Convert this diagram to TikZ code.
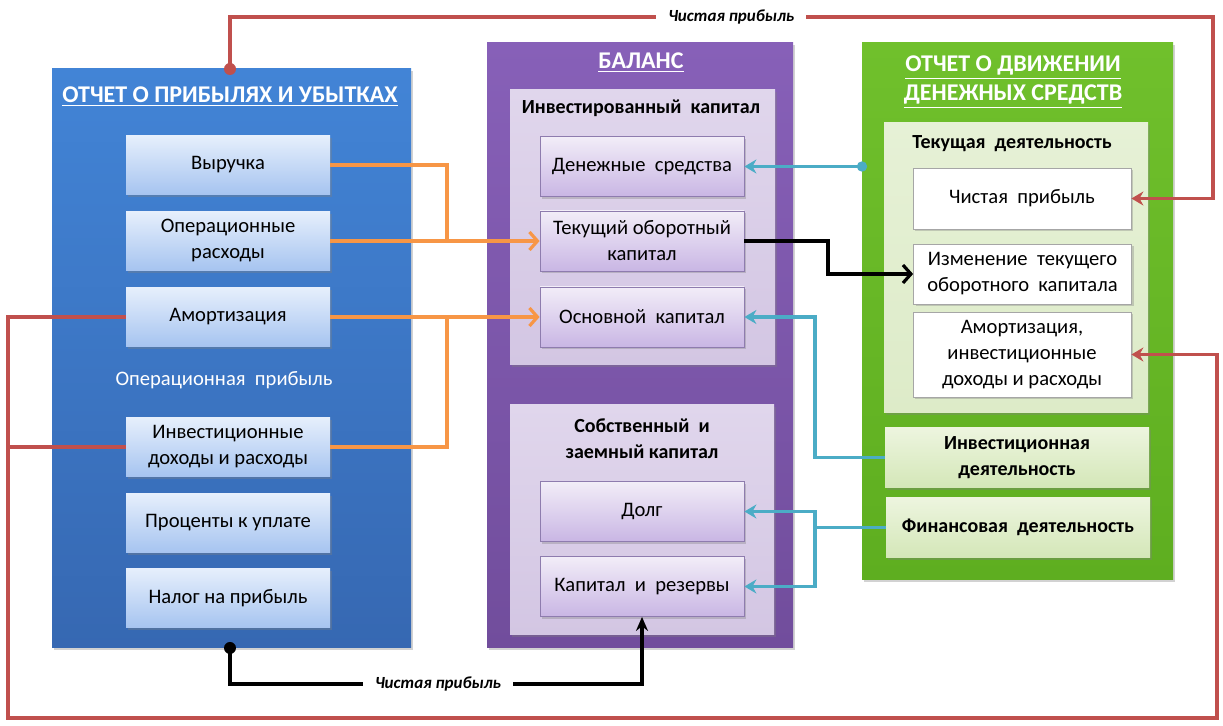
\documentclass[tikz,border=0pt]{standalone}
\usepackage{fontspec}
\setmainfont{Carlito}
\usetikzlibrary{arrows.meta,shadows}
\definecolor{bluT}{HTML}{4284D6}
\definecolor{bluB}{HTML}{3668B2}
\definecolor{purT}{HTML}{8760B8}
\definecolor{purB}{HTML}{714D9C}
\definecolor{grnT}{HTML}{70C02C}
\definecolor{grnB}{HTML}{5EAE20}
\definecolor{lavT}{HTML}{E0D6EC}
\definecolor{lavB}{HTML}{D3C6E3}
\definecolor{lgrT}{HTML}{E6F1D6}
\definecolor{lgrB}{HTML}{DDEBC8}
\definecolor{lbT}{HTML}{E6EFFC}
\definecolor{lbB}{HTML}{A6C4F0}
\definecolor{pbT}{HTML}{F2EDF8}
\definecolor{pbB}{HTML}{C9B6E4}
\definecolor{pbD}{HTML}{8E7CAE}
\definecolor{gbT}{HTML}{EDF5DF}
\definecolor{gbB}{HTML}{D4E7B8}
\definecolor{redL}{HTML}{C0504D}
\definecolor{orgL}{HTML}{F79646}
\definecolor{cyaL}{HTML}{4BACC6}
\begin{document}
\begin{tikzpicture}[x=0.5pt,y=-0.5pt,
  shd/.style={drop shadow={shadow xshift=1.2pt,shadow yshift=-1.2pt,opacity=0.35}},
  panel/.style={shd,inner sep=0pt},
  bpanel/.style={panel,top color=bluT,bottom color=bluB},
  ppanel/.style={panel,top color=purT,bottom color=purB},
  gpanel/.style={panel,top color=grnT,bottom color=grnB},
  lpanel/.style={panel,top color=lavT,bottom color=lavB},
  lgpanel/.style={panel,top color=lgrT,bottom color=lgrB},
  txt/.style={font=\fontsize{10.3}{13}\selectfont,align=center},
  lbox/.style={txt,shd,top color=lbT,bottom color=lbB,minimum width=102pt,minimum height=29.5pt,inner sep=1pt},
  pbox/.style={txt,shd,top color=pbT,bottom color=pbB,draw=pbD,line width=0.4pt,minimum width=102pt,minimum height=30pt,inner sep=1pt},
  wbox/.style={txt,shd,fill=white,draw=gray!70,line width=0.4pt,minimum width=109pt,inner sep=1pt},
  gbox/.style={txt,shd,top color=gbT,bottom color=gbB,minimum width=132pt,minimum height=30pt,inner sep=1pt,font=\fontsize{10}{13}\selectfont\bfseries},
  head/.style={text=white,font=\fontsize{12}{14.5}\selectfont\bfseries,align=center},
  ttl/.style={font=\fontsize{10}{13}\selectfont\bfseries,align=center},
  lab/.style={fill=white,inner sep=2pt,font=\fontsize{8.5}{11}\selectfont\bfseries\itshape},
  redc/.style={draw=redL,line width=1.6pt},
  orgc/.style={draw=orgL,line width=1.7pt},
  cyac/.style={draw=cyaL,line width=1.7pt},
  blkc/.style={draw=black,line width=1.7pt},
  barb/.style={-{Straight Barb[length=4pt,width=9pt,line width=1.6pt]}},
  stl/.style={-{Stealth[length=6pt,width=7pt]}}
]
\useasboundingbox (0,0) rectangle (1223,726);
\fill[white] (0,0) rectangle (1223,726);

% panels
\node[bpanel,minimum width=179.5pt,minimum height=289.5pt] (blue) at (231.5,358.5) {};
\node[ppanel,minimum width=153pt,minimum height=302.5pt] (purp) at (640,345.5) {};
\node[gpanel,minimum width=155.5pt,minimum height=268.5pt] (grn) at (1017.5,311.5) {};
\node[lpanel,minimum width=132.5pt,minimum height=137.5pt] (inv1) at (642.5,227.5) {};
\node[lpanel,minimum width=132pt,minimum height=115pt] (inv2) at (642,520) {};
\node[lgpanel,minimum width=132pt,minimum height=145pt] (tekd) at (1016,268) {};

% headers
\node[head] (hb) at (230,97) {\underline{ОТЧЕТ О ПРИБЫЛЯХ И УБЫТКАХ}};
\node[head] (hp) at (641,63) {\underline{БАЛАНС}};
\node[head] (hg) at (1013,82) {\underline{ОТЧЕТ О ДВИЖЕНИИ}\\\underline{ДЕНЕЖНЫХ СРЕДСТВ}};
\node[ttl] (t1) at (641,108) {Инвестированный\ \ капитал};
\node[ttl] (t2) at (642,439) {Собственный\ \ и\\заемный капитал};
\node[ttl] (t3) at (1012,144) {Текущая\ \ деятельность};

% left boxes
\node[lbox] (vyr) at (228,165) {\raisebox{-1.5pt}{Выручка}};
\node[lbox] (opr) at (228,241) {Операционные\\расходы};
\node[lbox] (amo) at (228,317) {\raisebox{-1.5pt}{Амортизация}};
\node[txt,text=white] (opp) at (224,380) {Операционная\ \ прибыль};
\node[lbox] (inv) at (228,447) {Инвестиционные\\доходы и расходы};
\node[lbox] (pct) at (228,523) {\raisebox{-1.5pt}{Проценты к уплате}};
\node[lbox] (nal) at (228,598) {\raisebox{-1.5pt}{Налог на прибыль}};

% middle boxes
\node[pbox] (den) at (642,166.5) {\raisebox{-1.5pt}{Денежные\ \ средства}};
\node[pbox] (tek) at (642,241) {Текущий оборотный\\капитал};
\node[pbox] (osn) at (642,317) {\raisebox{-1.5pt}{Основной\ \ капитал}};
\node[pbox] (dolg) at (642,511.5) {\raisebox{-1.5pt}{Долг}};
\node[pbox] (kap) at (642,586.5) {\raisebox{-1.5pt}{Капитал\ \ и\ \ резервы}};

% right boxes
\node[wbox,minimum height=30.5pt] (chp) at (1022,198.5) {\raisebox{-1.5pt}{Чистая\ \ прибыль}};
\node[wbox,minimum height=30pt] (izm) at (1022.5,274) {Изменение\ \ текущего\\оборотного\ \ капитала};
\node[wbox,minimum height=42.5pt] (amr) at (1022,354.5) {Амортизация,\\инвестиционные\\доходы и расходы};
\node[gbox] (invd) at (1017,457.5) {Инвестиционная\\деятельность};
\node[gbox] (fin) at (1018,527.5) {\raisebox{-1.5pt}{Финансовая\ \ деятельность}};

% orange connectors
\coordinate (oj1) at (447,241);
\coordinate (oj2) at (447,317);
\draw[orgc] (vyr.east) -| (oj1);
\draw[orgc,barb] (opr.east) -- (tek.west);
\draw[orgc,barb] (amo.east) -- (osn.west);
\draw[orgc] (inv.east) -| (oj2);

% cyan connectors
\coordinate (cd) at (862,166.5);
\draw[cyac,stl] (cd) -- (den.east);
\fill[cyaL] (cd) circle (2.6pt);
\coordinate (cj) at (815,400);
\draw[cyac,stl] (invd.west) -| (cj) |- (osn.east);
\coordinate (cj2) at (815,527.5);
\draw[cyac] (fin.west) -- (cj2);
\draw[cyac,stl] (cj2) |- (dolg.east);
\draw[cyac,stl] (cj2) |- (kap.east);

% black connectors
\coordinate (bj) at (828,257);
\draw[blkc,barb] (tek.east) -| (bj) |- (izm.west);
\coordinate (bdot) at (230,648);
\coordinate (b1) at (230,684);
\coordinate (b2) at (642,684);
\draw[blkc,-{Stealth[length=7pt,width=6pt]}] (bdot) -- (b1) -- node[lab,pos=0.505,inner xsep=6pt] {Чистая прибыль} (b2) -- (kap.south);
\fill (bdot) circle (3pt);

% red connectors
\coordinate (rdot) at (230,69);
\coordinate (r1) at (230,17);
\coordinate (r2) at (1213,17);
\draw[redc,stl] (rdot) -- (r1) -- node[lab,pos=0.51,inner xsep=6pt] {Чистая прибыль} (r2) |- (chp.east);
\fill[redL] (rdot) circle (3pt);
\coordinate (rl1) at (8,317);
\coordinate (rl2) at (8,718);
\coordinate (rl3) at (1217,718);
\draw[redc,stl] (amo.west) -- (rl1) -- (rl2) -- (rl3) |- (amr.east);
\draw[redc] (inv.west) -- (inv.west -| rl1);
\end{tikzpicture}
\end{document}
